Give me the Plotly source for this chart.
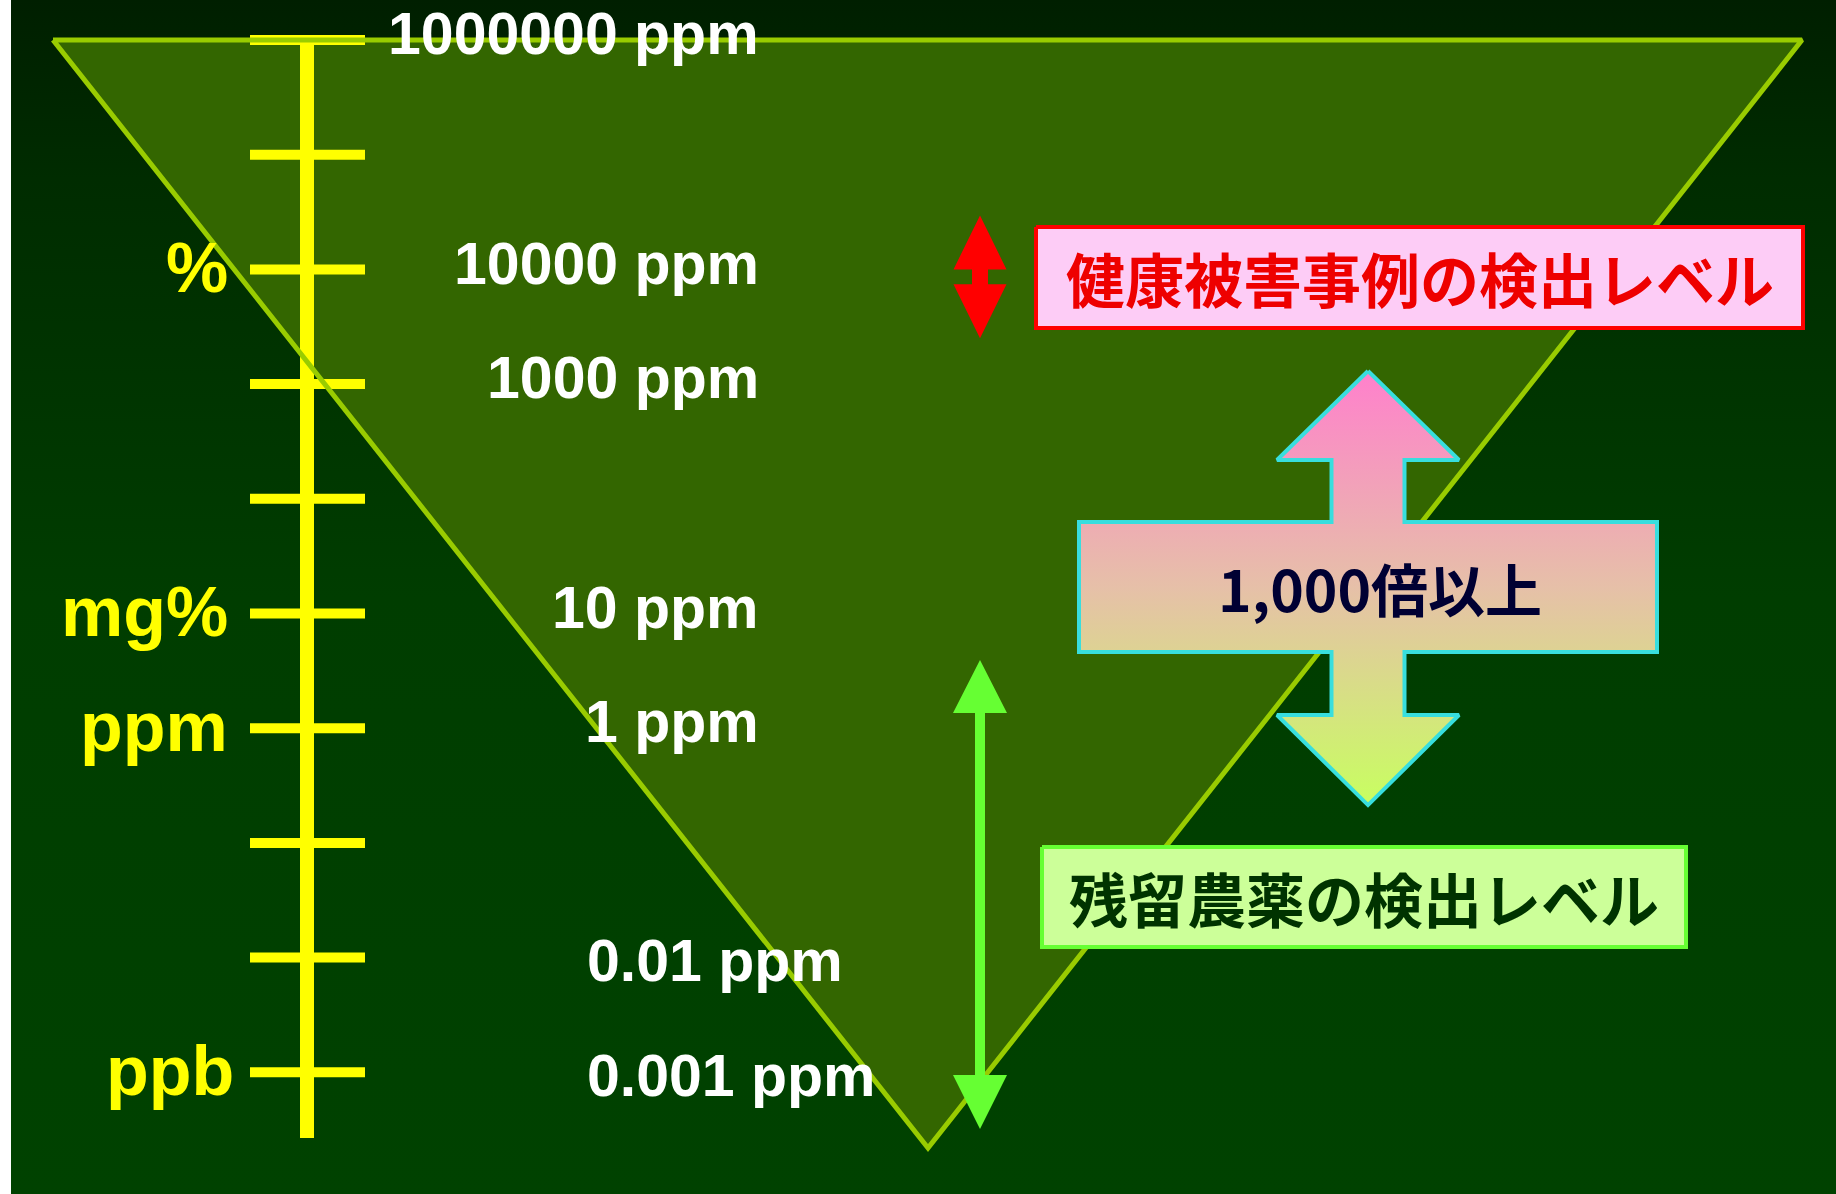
import plotly.graph_objects as go

# ---- concentration scale (decades of ppm: value = 10**k ppm) ----
tick_exponents = [6, 5, 4, 3, 2, 1, 0, -1, -2, -3]
ppm_labels = ["1000000 ppm", "10000 ppm", "1000 ppm", "10 ppm", "1 ppm", "0.01 ppm", "0.001 ppm"]
ppm_label_exponents = [6, 4, 3, 1, 0, -2, -3]
unit_labels = ["%", "mg%", "ppm", "ppb"]
unit_exponents = [4, 1, 0, -3]

# detection ranges (decades of ppm)
health_case_range = [4.47, 4.00, 3.87, 3.40]      # tip, head base, head base, tip
residue_range = [0.595, 0.133, -3.024, -3.494]    # tip, head base, head base, tip
gap_range = [3.114, 2.338, 1.798, 0.664, 0.115, -0.670]  # tip, head, bar top, bar bottom, head, tip
health_box_range = [4.370, 3.489]
residue_box_range = [-1.036, -1.908]
scale_bottom = -3.573
funnel_apex = -3.66

health_text = "健康被害事例の検出レベル"
residue_text = "残留農薬の検出レベル"
gap_text = "1,000倍以上"

# ---- horizontal layout (px units on a 0..1836 axis) ----
W, H = 1836, 1194
Y_RANGE = [-4.061, 6.349]
AXIS_X = 307
TICK_X = (250, 365)
FUNNEL_X = (53, 1802, 928)
ARROW_X = 980
BIG_X = dict(c=1368, head=91, shaft=36.5, bar=(1079, 1657))
HEALTH_BOX_X = (1036, 1803)
RESIDUE_BOX_X = (1042, 1686)

fig = go.Figure()


def poly(xs, ys, **kw):
    fig.add_trace(go.Scatter(x=list(xs) + [xs[0]], y=list(ys) + [ys[0]], mode="lines",
                             fill="toself", hoverinfo="skip", **kw))


# background with vertical shading
poly([11, W, W, 11], [Y_RANGE[0], Y_RANGE[0], Y_RANGE[1], Y_RANGE[1]],
     line=dict(width=0),
     fillgradient=dict(type="vertical",
                       colorscale=[[0, "#004200"], [0.5, "#003d00"], [0.85, "#002c00"], [1, "#001f00"]]))

# inverted funnel (fill only)
top = tick_exponents[0]
poly([FUNNEL_X[0], FUNNEL_X[1], FUNNEL_X[2]], [top, top, funnel_apex],
     line=dict(width=0), fillcolor="#336600")

# yellow concentration scale
fig.add_trace(go.Scatter(x=[AXIS_X, AXIS_X], y=[top, scale_bottom], mode="lines",
                         line=dict(color="#ffff00", width=14), hoverinfo="skip"))
tx, ty = [], []
for k in tick_exponents:
    tx += [TICK_X[0], TICK_X[1], None]
    ty += [k, k, None]
fig.add_trace(go.Scatter(x=tx, y=ty, mode="lines", line=dict(color="#ffff00", width=10),
                         hoverinfo="skip"))

# funnel outline
fig.add_trace(go.Scatter(x=[FUNNEL_X[0], FUNNEL_X[1], FUNNEL_X[2], FUNNEL_X[0]],
                         y=[top, top, funnel_apex, top], mode="lines",
                         line=dict(color="#99cc00", width=5), hoverinfo="skip"))


def double_arrow(cx, head, shaft, r):
    t1, b1, b2, t2 = r
    xs = [cx, cx + head, cx + shaft, cx + shaft, cx + head, cx, cx - head, cx - shaft, cx - shaft, cx - head]
    ys = [t1, b1, b1, b2, b2, t2, b2, b2, b1, b1]
    return xs, ys


# red arrow: health-damage detection level
xs, ys = double_arrow(ARROW_X, 26.5, 8, health_case_range)
poly(xs, ys, line=dict(width=0), fillcolor="#ff0000")

# green arrow: pesticide-residue detection level
xs, ys = double_arrow(ARROW_X, 27, 5, residue_range)
poly(xs, ys, line=dict(width=0), fillcolor="#66ff33")

# big gradient arrow spanning the gap
c, hd, sh = BIG_X["c"], BIG_X["head"], BIG_X["shaft"]
bl, br = BIG_X["bar"]
t, hb, bt, bb, hb2, tb = gap_range
bx = [c, c + hd, c + sh, c + sh, br, br, c + sh, c + sh, c + hd, c,
      c - hd, c - sh, c - sh, bl, bl, c - sh, c - sh, c - hd]
by = [t, hb, hb, bt, bt, bb, bb, hb2, hb2, tb,
      hb2, hb2, bb, bb, bt, bt, hb, hb]
poly(bx, by, line=dict(color="#38dede", width=4),
     fillgradient=dict(type="vertical",
                       colorscale=[[0, "#c8ff60"], [0.5, "#e6c0a8"], [1, "#ff80cc"]]))

# labelled boxes
x0, x1 = HEALTH_BOX_X
y0, y1 = health_box_range
poly([x0, x1, x1, x0], [y0, y0, y1, y1], line=dict(color="#ff0000", width=4), fillcolor="#fdccf6")
x0, x1 = RESIDUE_BOX_X
y0, y1 = residue_box_range
poly([x0, x1, x1, x0], [y0, y0, y1, y1], line=dict(color="#66ff33", width=4), fillcolor="#ccff99")

annotations = []
for lab, k in zip(ppm_labels, ppm_label_exponents):
    left = k < -1
    annotations.append(dict(x=585 if left else 761, y=k - 0.03 if left else k + 0.05, text=lab,
                            showarrow=False, xanchor="left" if left else "right", yanchor="middle",
                            font=dict(family="Liberation Sans", size=59, color="#ffffff", weight="bold")))
for lab, k in zip(unit_labels, unit_exponents):
    annotations.append(dict(x=236 if lab == "ppb" else 230, y=k + 0.01, text=lab, showarrow=False,
                            xanchor="right", yanchor="middle",
                            font=dict(family="Liberation Sans", size=70, color="#ffff00", weight="bold")))

annotations.append(dict(x=sum(HEALTH_BOX_X) / 2, y=sum(health_box_range) / 2, text=health_text,
                        showarrow=False, xanchor="center", yanchor="middle",
                        font=dict(family="Noto Sans CJK JP", size=59, color="#ee0000", weight="bold")))
annotations.append(dict(x=sum(RESIDUE_BOX_X) / 2, y=sum(residue_box_range) / 2, text=residue_text,
                        showarrow=False, xanchor="center", yanchor="middle",
                        font=dict(family="Noto Sans CJK JP", size=59, color="#003300", weight="bold")))
annotations.append(dict(x=1380, y=(gap_range[2] + gap_range[3]) / 2, text=gap_text,
                        showarrow=False, xanchor="center", yanchor="middle",
                        font=dict(family="Noto Sans CJK JP", size=57, color="#000033", weight="bold")))

fig.update_layout(
    width=W, height=H, margin=dict(l=0, r=0, t=0, b=0),
    paper_bgcolor="#ffffff", plot_bgcolor="#ffffff", showlegend=False,
    xaxis=dict(range=[0, W], visible=False, fixedrange=True),
    yaxis=dict(range=Y_RANGE, visible=False, fixedrange=True),
    annotations=annotations,
)

fig.write_html("out.html", config=dict(displayModeBar=False))
